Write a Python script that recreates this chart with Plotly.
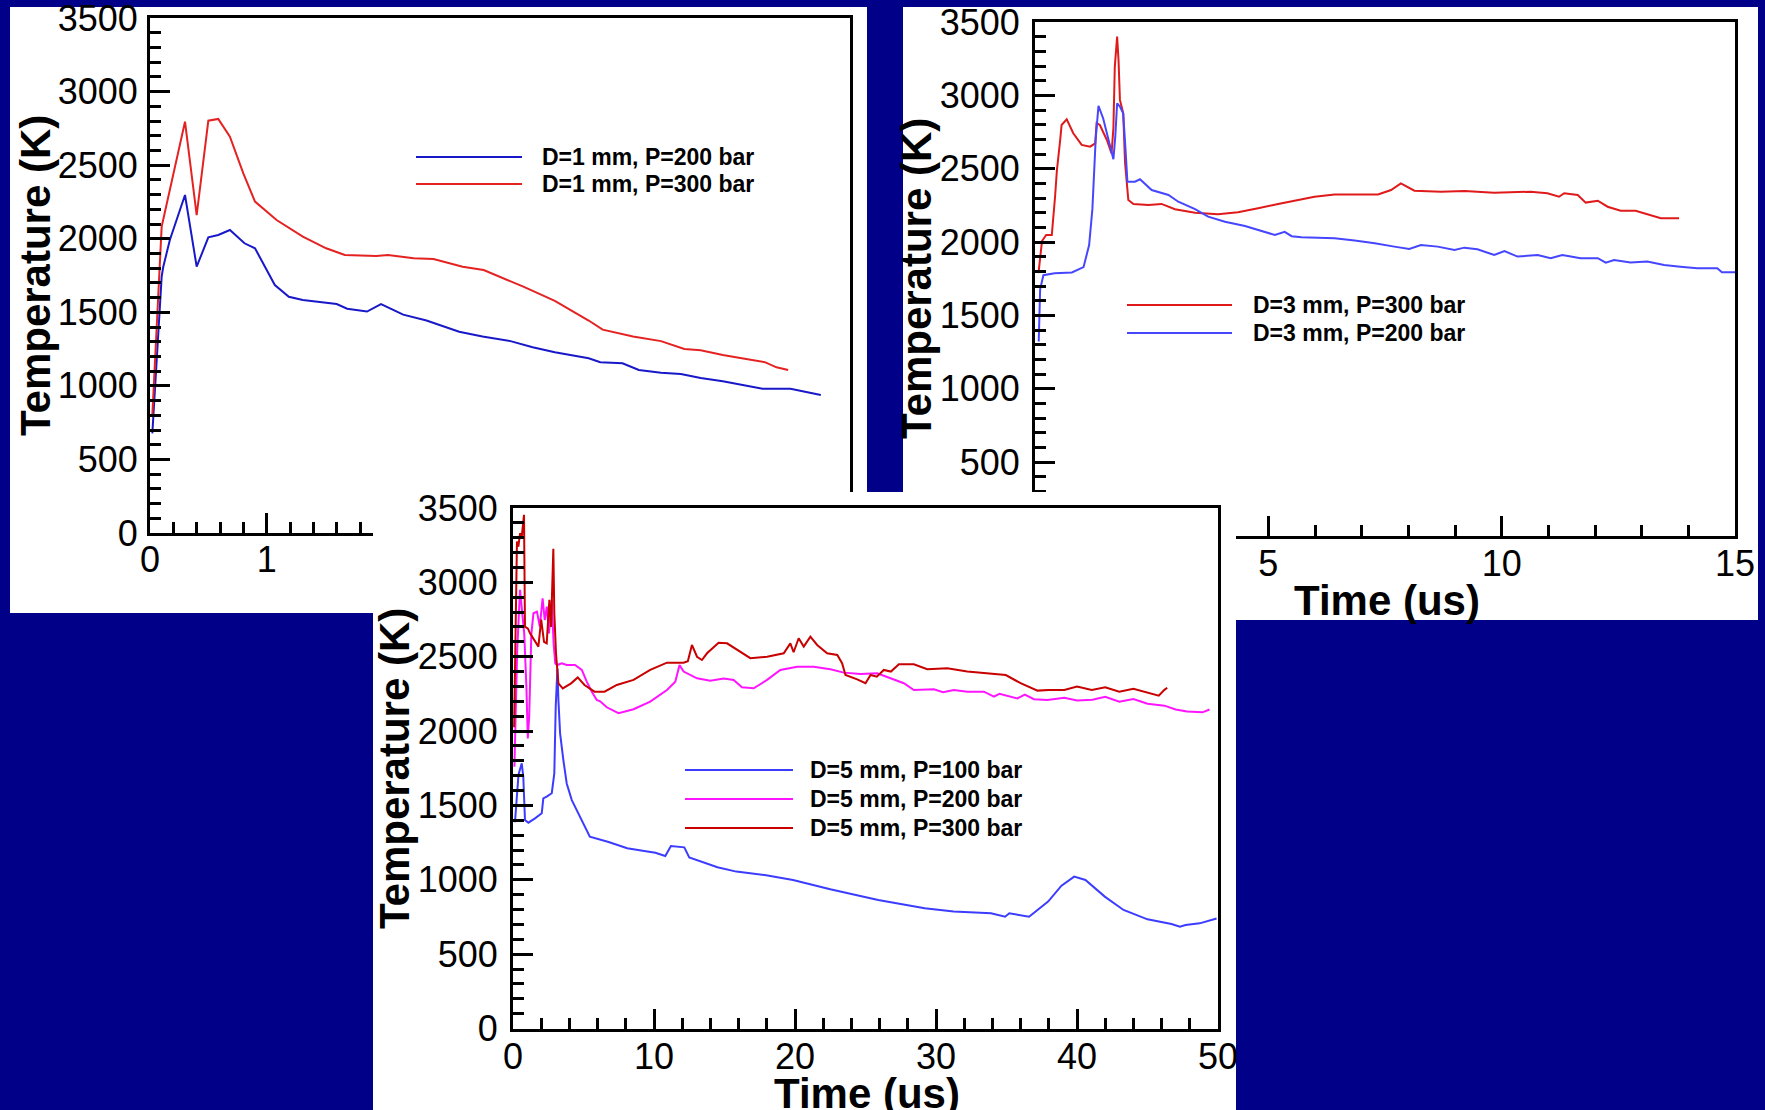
import plotly.graph_objects as go

W, H = 1765, 1110
NAVY = "#000088"
FONT = "Liberation Sans, Arial, Helvetica, sans-serif"

# ---------------- data: panel 1 (D = 1 mm) ----------------
p1_labels = ["D=1 mm, P=200 bar", "D=1 mm, P=300 bar"]
p1_t200 = [0.02, 0.06, 0.10, 0.114, 0.17, 0.30, 0.40, 0.50, 0.585, 0.685, 0.81, 0.90, 1.07, 1.19, 1.31,
           1.60, 1.69, 1.86, 1.98, 2.17, 2.37, 2.65, 2.85, 3.09, 3.28, 3.47, 3.76, 3.86, 4.05, 4.19,
           4.38, 4.55, 4.72, 4.91, 5.11, 5.25, 5.49, 5.63, 5.75]
p1_T200 = [677, 1202, 1742, 1810, 1991, 2297, 1810, 2009, 2025, 2059, 1969, 1935, 1685, 1605, 1583,
           1556, 1524, 1505, 1556, 1484, 1444, 1368, 1336, 1304, 1263, 1228, 1188, 1161, 1153, 1108,
           1089, 1081, 1054, 1032, 1000, 981, 981, 960, 938]
p1_t300 = [0.02, 0.10, 0.30, 0.40, 0.50, 0.585, 0.685, 0.80, 0.90, 1.085, 1.31, 1.51, 1.67, 1.94, 2.04,
           2.26, 2.43, 2.68, 2.86, 3.20, 3.47, 3.76, 3.88, 4.14, 4.38, 4.58, 4.72, 4.91, 5.11, 5.27,
           5.37, 5.47]
p1_T300 = [800, 2082, 2795, 2161, 2802, 2814, 2693, 2444, 2252, 2127, 2014, 1935, 1889, 1882, 1889,
           1867, 1862, 1810, 1787, 1674, 1578, 1444, 1382, 1336, 1304, 1250, 1242, 1210, 1183, 1161,
           1126, 1108]

# ---------------- data: panel 2 (D = 3 mm) ----------------
p2_labels = ["D=3 mm, P=300 bar", "D=3 mm, P=200 bar"]
p2_t300 = [0.075, 0.15, 0.24, 0.36, 0.43, 0.47, 0.54, 0.57, 0.68, 0.82, 1.0, 1.18, 1.29, 1.32, 1.39,
           1.54, 1.64, 1.68, 1.71, 1.76, 1.79, 1.82, 1.89, 1.93, 2.0, 2.11, 2.43, 2.71, 3.0, 3.43,
           3.92, 4.35, 4.78, 5.21, 5.99, 6.42, 7.35, 7.63, 7.84, 8.13, 8.70, 9.20, 9.84, 10.27, 10.62,
           10.98, 11.23, 11.34, 11.63, 11.80, 12.06, 12.27, 12.55, 12.87, 13.12, 13.41, 13.80]
p2_T300 = [1789, 2007, 2048, 2048, 2309, 2491, 2696, 2798, 2837, 2742, 2662, 2650, 2673, 2810, 2798,
           2696, 2605, 2776, 3196, 3400, 3241, 2969, 2878, 2537, 2287, 2260, 2253, 2260, 2224, 2200,
           2189, 2203, 2230, 2260, 2309, 2325, 2325, 2355, 2400, 2350, 2343, 2348, 2337, 2343, 2343,
           2333, 2309, 2333, 2321, 2269, 2282, 2241, 2214, 2214, 2191, 2162, 2162]
p2_t200 = [0.08, 0.11, 0.18, 0.42, 0.79, 1.04, 1.16, 1.23, 1.30, 1.36, 1.46, 1.57, 1.68, 1.72, 1.76,
           1.82, 1.89, 1.94, 1.98, 2.14, 2.25, 2.50, 2.86, 3.07, 3.43, 3.71, 4.07, 4.50, 4.78, 5.14,
           5.35, 5.5, 5.71, 6.42, 6.85, 7.28, 7.70, 8.02, 8.27, 8.63, 8.99, 9.20, 9.48, 9.84, 10.06,
           10.34, 10.77, 11.05, 11.30, 11.69, 12.06, 12.23, 12.41, 12.76, 13.12, 13.48, 13.83, 14.19,
           14.62, 14.72, 15.0]
p2_T200 = [1322, 1678, 1774, 1788, 1793, 1829, 1980, 2226, 2700, 2928, 2844, 2696, 2565, 2719, 2946,
           2923, 2878, 2628, 2412, 2412, 2428, 2355, 2321, 2275, 2224, 2173, 2139, 2110, 2083, 2048,
           2070, 2040, 2033, 2026, 2010, 1992, 1969, 1953, 1980, 1969, 1946, 1962, 1951, 1912, 1939,
           1901, 1912, 1890, 1912, 1890, 1890, 1860, 1878, 1860, 1867, 1844, 1832, 1821,
           1821, 1794, 1794]

# ---------------- data: panel 3 (D = 5 mm) ----------------
p3_labels = ["D=5 mm, P=100 bar", "D=5 mm, P=200 bar", "D=5 mm, P=300 bar"]
p3_t100 = [0.14, 0.39, 0.62, 0.73, 0.85, 1.09, 1.56, 2.04, 2.15, 2.39, 2.75, 2.93, 3.03, 3.15, 3.22,
           3.34, 3.57, 3.81, 4.17, 4.64, 5.11, 5.45, 6.78, 8.1, 9.2, 10.1, 10.8, 11.2, 12.15, 12.5,
           14.5, 15.84, 17.85, 19.86, 22.5, 25.9, 29.2, 31.25, 33.9, 34.9, 35.2, 36.6, 37.95, 38.9,
           39.8, 40.6, 41.97, 43.3, 45.0, 46.7, 47.3, 47.7, 48.7, 49.9]
p3_T100 = [1387, 1706, 1783, 1693, 1402, 1384, 1413, 1447, 1548, 1559, 1582, 1716, 2164, 2420, 2209,
           1985, 1806, 1648, 1536, 1447, 1357, 1290, 1254, 1212, 1195, 1182, 1160, 1227, 1218, 1151,
           1084, 1055, 1032, 999, 936, 864, 808, 786, 775, 752, 775, 752, 853, 960,
           1021, 999, 887, 797, 734, 703, 685, 696, 707, 740]
p3_t200 = [0.1, 0.3, 0.5, 0.65, 0.8, 0.95, 1.05, 1.15, 1.3, 1.45, 1.7, 1.9, 2.1, 2.25, 2.4, 2.55, 2.75,
           2.88, 3.0, 3.15, 3.46, 3.81, 4.40, 4.88, 5.23, 5.59, 5.94, 6.18, 6.65, 7.48, 8.55, 9.73,
           10.92, 11.51, 11.67, 11.81, 12.1, 13.05, 13.99, 14.94, 15.65, 16.24, 17.07, 18.02, 18.96,
           20.15, 21.33, 22.51, 23.46, 24.65, 25.83, 26.78, 27.72, 28.43, 29.85, 30.5, 31.27, 32.22,
           33.4, 34.11, 34.5, 35.77, 36.3, 36.95, 37.9, 39.1, 40.0, 41.1, 42.0, 43.0, 44.0, 45.0, 46.2,
           47.0, 47.8, 48.9, 49.4]
p3_T200 = [1760, 2550, 2950, 2800, 2650, 2300, 1950, 2100, 2650, 2792, 2803, 2702, 2893, 2747, 2837,
           2657, 2882, 2590, 2455, 2444, 2455, 2444, 2444, 2411, 2332, 2265, 2209, 2200, 2160, 2120,
           2147, 2198, 2276, 2332, 2389, 2444, 2400, 2355, 2339, 2353, 2344, 2294, 2288, 2344, 2411,
           2433, 2433, 2416, 2393, 2384, 2389, 2355, 2322, 2276, 2281, 2262, 2276, 2265,
           2265, 2231, 2250, 2220, 2245, 2214, 2209, 2224, 2205, 2211, 2230, 2198, 2215, 2184, 2171,
           2145, 2131, 2126, 2145]
p3_t300 = [0.08, 0.28, 0.38, 0.50, 0.62, 0.78, 0.85, 1.06, 1.21, 1.56, 1.80, 2.0, 2.2, 2.39, 2.58,
           2.70, 2.86, 2.93, 3.05, 3.22, 3.53, 4.12, 4.59, 5.07, 5.78, 6.49, 7.36, 8.55, 9.73, 10.92,
           12.1, 12.4, 12.69, 13.05, 13.4, 13.76, 14.58, 15.18, 15.89, 16.83, 18.02, 19.2, 19.67,
           19.9, 20.26, 20.62, 21.09, 21.57, 22.28, 23.0, 23.34, 23.58, 24.41, 25.0, 25.36, 25.8,
           26.3, 26.8, 27.37, 28.43, 29.38, 30.8, 32.22, 33.64, 34.95, 36.0, 37.2, 38.0, 39.1, 40.0,
           41.05, 42.0, 43.0, 44.0, 45.0, 45.8, 46.2, 46.4]
p3_T300 = [2025, 3274, 3240, 3330, 3308, 3454, 2702, 2689, 2657, 2601, 2568, 2750, 2600, 2590, 2882,
           2700, 3226, 2792, 2523, 2321, 2287, 2321, 2361, 2310, 2265, 2265, 2310, 2344, 2411, 2460,
           2460, 2470, 2579, 2500, 2478, 2523, 2594, 2590, 2545, 2490, 2500, 2523, 2590,
           2530, 2624, 2568, 2635, 2579, 2523, 2512, 2456, 2377, 2348, 2322, 2377, 2366,
           2411, 2400, 2449, 2449, 2416, 2422, 2400, 2389, 2377, 2322, 2272, 2276, 2277, 2300,
           2277, 2295, 2264, 2285, 2259, 2238, 2277, 2291]

# ---------------- tick labels (labels hidden under the overlapping panel are blank) ----------------
p1_xticks = [0, 1, 2, 3, 4, 5, 6]
p1_xlabels = ["0", "1", "", "", "", "", ""]
p2_xticks = [0, 5, 10, 15]
p2_xlabels = ["", "5", "10", "15"]
T_ticks = [0, 500, 1000, 1500, 2000, 2500, 3000, 3500]
T_labels = ["0", "500", "1000", "1500", "2000", "2500", "3000", "3500"]
p2_ylabels = [""] + T_labels[1:]
p3_xticks = [0, 10, 20, 30, 40, 50]
p3_xlabels = ["0", "10", "20", "30", "40", "50"]

# ---------------- styling ----------------
C1_BLUE, C1_RED = "#1818c8", "#e42222"
C2_RED, C2_BLUE = "#e01a1a", "#4646ff"
C3_BLUE, C3_MAG, C3_RED = "#3c3cff", "#ff14ff", "#c80000"

def px(x):
    return x / W

def py(y):
    return 1 - y / H

fig = go.Figure()

fig.add_trace(go.Scatter(x=p1_t200, y=p1_T200, mode="lines", name=p1_labels[0],
                         line=dict(color=C1_BLUE, width=2), xaxis="x", yaxis="y"))
fig.add_trace(go.Scatter(x=p1_t300, y=p1_T300, mode="lines", name=p1_labels[1],
                         line=dict(color=C1_RED, width=2), xaxis="x", yaxis="y"))
fig.add_trace(go.Scatter(x=p2_t300, y=p2_T300, mode="lines", name=p2_labels[0],
                         line=dict(color=C2_RED, width=2), xaxis="x2", yaxis="y2"))
fig.add_trace(go.Scatter(x=p2_t200, y=p2_T200, mode="lines", name=p2_labels[1],
                         line=dict(color=C2_BLUE, width=2), xaxis="x2", yaxis="y2"))
# white sheet of the front panel (drawn above panels 1 and 2)
fig.add_trace(go.Scatter(x=[0, 1, 1, 0, 0], y=[0, 0, 1, 1, 0], mode="lines", fill="toself",
                         fillcolor="white", line=dict(width=0, color="white"),
                         hoverinfo="skip", xaxis="x3", yaxis="y3"))
fig.add_trace(go.Scatter(x=p3_t100, y=p3_T100, mode="lines", name=p3_labels[0],
                         line=dict(color=C3_BLUE, width=2), xaxis="x4", yaxis="y4"))
fig.add_trace(go.Scatter(x=p3_t200, y=p3_T200, mode="lines", name=p3_labels[1],
                         line=dict(color=C3_MAG, width=2), xaxis="x4", yaxis="y4"))
fig.add_trace(go.Scatter(x=p3_t300, y=p3_T300, mode="lines", name=p3_labels[2],
                         line=dict(color=C3_RED, width=2), xaxis="x4", yaxis="y4"))

def ax(domain, rng, tickvals, ticktext, minor_dtick, anchor, standoff):
    return dict(domain=domain, range=rng, anchor=anchor, tickmode="array",
                tickvals=tickvals, ticktext=ticktext,
                showline=True, linecolor="black", linewidth=3, mirror=True,
                ticks="inside", ticklen=20, tickwidth=3, tickcolor="black",
                minor=dict(tickmode="linear", dtick=minor_dtick, tick0=0, ticks="inside",
                           ticklen=11, tickwidth=2.5, tickcolor="black", showgrid=False),
                showgrid=False, zeroline=False, fixedrange=True, automargin=False,
                tickfont=dict(family=FONT, size=36, color="black"),
                ticklabeloverflow="allow", ticklabelstandoff=standoff)

P1 = (150, 850, 18, 533)
P2 = (1035, 1735, 22, 535.5)
P3 = (513, 1218, 508, 1028.5)
CV = (373, 1236, 492, 1110)

def dom_x(p):
    return [px(p[0]), px(p[1])]

def dom_y(p):
    return [py(p[3]), py(p[2])]

fig.update_layout(
    template="none",
    width=W, height=H, autosize=False, margin=dict(l=0, r=0, t=0, b=0, pad=0),
    paper_bgcolor=NAVY, plot_bgcolor="rgba(0,0,0,0)", showlegend=False,
    xaxis=ax(dom_x(P1), [0, 6], p1_xticks, p1_xlabels, 0.2, "y", -7),
    yaxis=ax(dom_y(P1), [0, 3500], T_ticks, T_labels, 100, "x", 2),
    xaxis2=ax(dom_x(P2), [0, 15], p2_xticks, p2_xlabels, 1, "y2", -6),
    yaxis2=ax(dom_y(P2), [0, 3500], T_ticks, p2_ylabels, 100, "x2", 5),
    xaxis3=dict(domain=dom_x(CV), range=[0, 1], visible=False, anchor="y3", fixedrange=True,
                automargin=False),
    yaxis3=dict(domain=dom_y(CV), range=[0, 1], visible=False, anchor="x3", fixedrange=True,
                automargin=False),
    xaxis4=ax(dom_x(P3), [0, 50], p3_xticks, p3_xlabels, 2, "y4", -6),
    yaxis4=ax(dom_y(P3), [0, 3500], T_ticks, T_labels, 100, "x4", 5),
)

shapes = [
    dict(type="rect", xref="paper", yref="paper", x0=px(10), x1=px(867), y0=py(613), y1=py(7),
         fillcolor="white", line=dict(width=0), layer="below"),
    dict(type="rect", xref="paper", yref="paper", x0=px(903), x1=px(1758), y0=py(620), y1=py(7),
         fillcolor="white", line=dict(width=0), layer="below"),
]

annotations = []
TITLE_FONT = dict(family=FONT, size=42, color="black", weight=700)
LEG_FONT = dict(family=FONT, size=23, color="black", weight=700)

def title(text, x, y, angle=0):
    annotations.append(dict(text=text, x=px(x), y=py(y), xref="paper", yref="paper",
                            showarrow=False, textangle=angle, xanchor="center", yanchor="middle",
                            font=TITLE_FONT))

title("Temperature (K)", 35, 276, -90)
title("Temperature (K)", 916, 279, -90)
title("Temperature (K)", 394, 769, -90)
title("Time (us)", 1387, 600)
title("Time (us)", 867, 1093)

def legend_entry(label, color, lx0, lx1, ly, tx):
    shapes.append(dict(type="line", xref="paper", yref="paper", x0=px(lx0), x1=px(lx1),
                       y0=py(ly), y1=py(ly), line=dict(color=color, width=2)))
    annotations.append(dict(text=label, x=px(tx), y=py(ly), xref="paper", yref="paper",
                            showarrow=False, xanchor="left", yanchor="middle", font=LEG_FONT))

legend_entry(p1_labels[0], C1_BLUE, 416, 522, 157, 540)
legend_entry(p1_labels[1], C1_RED, 416, 522, 184, 540)
legend_entry(p2_labels[0], C2_RED, 1127, 1232, 305, 1251)
legend_entry(p2_labels[1], C2_BLUE, 1127, 1232, 333, 1251)
legend_entry(p3_labels[0], C3_BLUE, 685, 793, 770, 808)
legend_entry(p3_labels[1], C3_MAG, 685, 793, 799, 808)
legend_entry(p3_labels[2], C3_RED, 685, 793, 828, 808)

fig.update_layout(shapes=shapes, annotations=annotations)

fig.write_html("out.html")
